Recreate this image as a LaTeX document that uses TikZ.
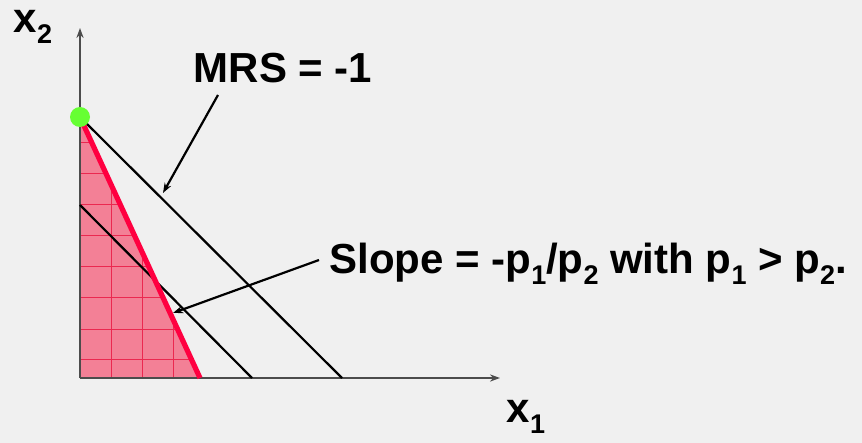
\documentclass[tikz,border=0pt]{standalone}
\usepackage{fontspec}
\setmainfont{Liberation Sans}
\usetikzlibrary{arrows.meta,positioning}
\definecolor{bgcol}{RGB}{240,240,240}
\definecolor{budgetred}{RGB}{255,0,64}
\definecolor{setpink}{RGB}{243,128,150}
\definecolor{gridred}{RGB}{235,40,80}
\definecolor{dotgreen}{RGB}{102,255,51}
\newcommand{\lowidx}[1]{\raisebox{-0.5ex}{\fontsize{13.5}{13.5}\selectfont #1}}

\begin{document}
\begin{tikzpicture}[x=0.5pt, y=-0.5pt, >={Stealth[length=5pt,width=3.6pt]},
  lbl/.style={font=\fontsize{21}{24}\selectfont\bfseries, inner sep=0pt},
  axis/.style={->, draw=black!70, line width=0.75pt},
  iso/.style={draw=black, line width=1.1pt},
  gridl/.style={draw=gridred, line width=0.5pt}]
\fill[bgcol] (0,0) rectangle (862,443);
\useasboundingbox (0,0) rectangle (862,443);
% points
\coordinate (o) at (80,378);
\coordinate (top) at (80,117);
\coordinate (cut) at (200,378);
\coordinate (low) at (80,205);
\coordinate (lowend) at (252,378);
\coordinate (highend) at (342,378);
% budget set
\fill[setpink] (top) -- (o) -- (cut) -- cycle;
\begin{scope}
  \clip (top) -- (o) -- (cut) -- cycle;
  \foreach \gx in {111,142,173} \draw[gridl] (\gx,100) -- (\gx,378);
  \foreach \gy in {359,329,298,267,236,205,174,143} \draw[gridl] (80,\gy) -- (200,\gy);
\end{scope}
% axes
\draw[axis] (o) -- (80,28);
\draw[axis] (o) -- (500,378);
% lines of slope -1
\draw[iso] (top) -- (highend);
\draw[iso] (low) -- (lowend);
\draw[budgetred, line width=2.6pt] (top) -- (cut);
\fill[dotgreen] (top) circle (10);
% labels
\node[lbl] (xtwo) at (33,27) {x\lowidx{2}};
\node[lbl] (xone) at (526,417) {x\lowidx{1}};
\node[lbl] (mrs) at (283,68) {MRS = -1};
\node[lbl, anchor=west] (slope) at (329,264) {Slope = -p\lowidx{1}/p\lowidx{2} with p\lowidx{1} > p\lowidx{2}.};
\coordinate (mrsfrom) at (218,95);
\coordinate (mrsto) at (163,193);
\coordinate (slopefrom) at (319,260);
\coordinate (slopeto) at (173,313);
\draw[->, line width=1.1pt] (mrsfrom) -- (mrsto);
\draw[->, line width=1.1pt] (slopefrom) -- (slopeto);
\end{tikzpicture}
\end{document}
